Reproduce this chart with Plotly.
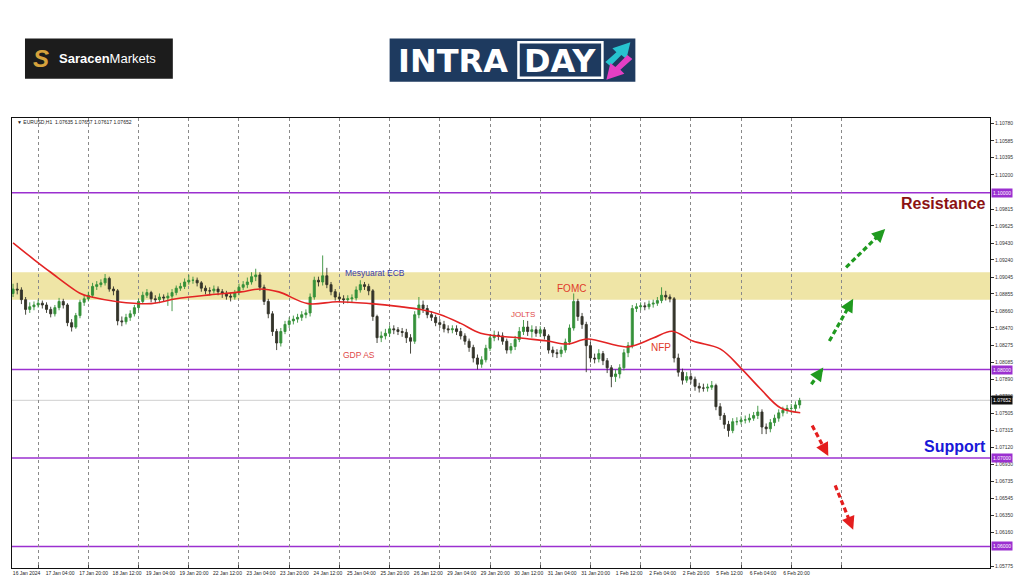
import plotly.graph_objects as go

# ---------------- data (EURUSD, 2-hour bars) ----------------
BAR_HOURS = 2
OPEN0 = 1.0886
CLOSE = [
    1.0891, 1.0890, 1.0879, 1.0868, 1.0871, 1.0873, 1.0875, 1.0873, 1.0868, 1.0863,
    1.0870, 1.0877, 1.0873, 1.0853, 1.0848, 1.0861, 1.0876, 1.0880, 1.0884, 1.0894,
    1.0896, 1.0898, 1.0903, 1.0891, 1.0889, 1.0855, 1.0854, 1.0859, 1.0863, 1.0870,
    1.0877, 1.0884, 1.0887, 1.0880, 1.0879, 1.0882, 1.0881, 1.0883, 1.0887, 1.0892,
    1.0894, 1.0899, 1.0901, 1.0901, 1.0898, 1.0892, 1.0889, 1.0889, 1.0891, 1.0888,
    1.0886, 1.0883, 1.0882, 1.0887, 1.0893, 1.0896, 1.0899, 1.0905, 1.0907, 1.0893,
    1.0877, 1.0863, 1.0843, 1.0830, 1.0843, 1.0851, 1.0855, 1.0857, 1.0859, 1.0862,
    1.0864, 1.0882, 1.0901, 1.0899, 1.0906, 1.0896, 1.0888, 1.0882, 1.0880, 1.0879,
    1.0880, 1.0881, 1.0890, 1.0896, 1.0894, 1.0889, 1.0860, 1.0836, 1.0838, 1.0841,
    1.0846, 1.0845, 1.0843, 1.0842, 1.0836, 1.0832, 1.0862, 1.0873, 1.0869, 1.0862,
    1.0859, 1.0853, 1.0851, 1.0846, 1.0845, 1.0846, 1.0843, 1.0838, 1.0832, 1.0825,
    1.0813, 1.0806, 1.0811, 1.0824, 1.0836, 1.0839, 1.0838, 1.0832, 1.0822, 1.0826,
    1.0834, 1.0843, 1.0848, 1.0843, 1.0845, 1.0841, 1.0845, 1.0838, 1.0822, 1.0819,
    1.0818, 1.0822, 1.0831, 1.0847, 1.0877, 1.0860, 1.0851, 1.0827, 1.0813, 1.0812,
    1.0818, 1.0810, 1.0802, 1.0792, 1.0795, 1.0802, 1.0819, 1.0827, 1.0869, 1.0871,
    1.0872, 1.0871, 1.0874, 1.0875, 1.0878, 1.0884, 1.0882, 1.0880, 1.0813, 1.0797,
    1.0788, 1.0792, 1.0789, 1.0781, 1.0779, 1.0779, 1.0780, 1.0782, 1.0758, 1.0748,
    1.0738, 1.0731, 1.0741, 1.0741, 1.0743, 1.0743, 1.0745, 1.0748, 1.0752, 1.0735,
    1.0733, 1.0740, 1.0745, 1.0751, 1.0754, 1.0756, 1.0756, 1.0760, 1.0765,
]
HIGH = [
    1.0897, 1.0898, 1.0893, 1.0882, 1.0876, 1.0877, 1.0879, 1.0878, 1.0876, 1.0871,
    1.0873, 1.0881, 1.0880, 1.0875, 1.0857, 1.0864, 1.0879, 1.0884, 1.0888, 1.0898,
    1.0900, 1.0902, 1.0908, 1.0905, 1.0894, 1.0891, 1.0860, 1.0863, 1.0867, 1.0873,
    1.0880, 1.0888, 1.0891, 1.0889, 1.0884, 1.0886, 1.0885, 1.0887, 1.0891, 1.0895,
    1.0898, 1.0903, 1.0907, 1.0905, 1.0904, 1.0900, 1.0895, 1.0893, 1.0895, 1.0894,
    1.0891, 1.0889, 1.0887, 1.0890, 1.0897, 1.0900, 1.0904, 1.0910, 1.0914, 1.0910,
    1.0896, 1.0880, 1.0866, 1.0846, 1.0847, 1.0855, 1.0859, 1.0861, 1.0863, 1.0866,
    1.0868, 1.0886, 1.0905, 1.0905, 1.0929, 1.0915, 1.0899, 1.0891, 1.0886, 1.0884,
    1.0884, 1.0885, 1.0894, 1.0901, 1.0899, 1.0897, 1.0891, 1.0862, 1.0843, 1.0846,
    1.0850, 1.0850, 1.0848, 1.0847, 1.0846, 1.0840, 1.0866, 1.0882, 1.0878, 1.0873,
    1.0866, 1.0862, 1.0857, 1.0855, 1.0850, 1.0850, 1.0850, 1.0847, 1.0841, 1.0835,
    1.0828, 1.0817, 1.0815, 1.0828, 1.0840, 1.0844, 1.0843, 1.0842, 1.0835, 1.0830,
    1.0838, 1.0848, 1.0856, 1.0855, 1.0850, 1.0849, 1.0849, 1.0848, 1.0840, 1.0826,
    1.0823, 1.0826, 1.0835, 1.0851, 1.0886, 1.0880, 1.0864, 1.0854, 1.0831, 1.0818,
    1.0823, 1.0821, 1.0813, 1.0805, 1.0800, 1.0806, 1.0823, 1.0831, 1.0873, 1.0875,
    1.0876, 1.0876, 1.0878, 1.0879, 1.0882, 1.0893, 1.0889, 1.0885, 1.0882, 1.0818,
    1.0801, 1.0797, 1.0796, 1.0792, 1.0785, 1.0784, 1.0784, 1.0787, 1.0784, 1.0762,
    1.0751, 1.0742, 1.0745, 1.0746, 1.0747, 1.0748, 1.0750, 1.0752, 1.0759, 1.0755,
    1.0739, 1.0744, 1.0749, 1.0755, 1.0758, 1.0760, 1.0761, 1.0764, 1.0768,
]
LOW = [
    1.0882, 1.0885, 1.0874, 1.0862, 1.0864, 1.0867, 1.0870, 1.0869, 1.0864, 1.0859,
    1.0860, 1.0867, 1.0869, 1.0849, 1.0843, 1.0846, 1.0858, 1.0872, 1.0877, 1.0881,
    1.0890, 1.0893, 1.0895, 1.0888, 1.0884, 1.0850, 1.0849, 1.0851, 1.0855, 1.0860,
    1.0867, 1.0874, 1.0881, 1.0876, 1.0875, 1.0875, 1.0877, 1.0872, 1.0866, 1.0884,
    1.0889, 1.0891, 1.0896, 1.0897, 1.0894, 1.0888, 1.0885, 1.0884, 1.0886, 1.0884,
    1.0881, 1.0879, 1.0877, 1.0879, 1.0884, 1.0890, 1.0892, 1.0896, 1.0900, 1.0889,
    1.0873, 1.0858, 1.0838, 1.0822, 1.0826, 1.0840, 1.0847, 1.0851, 1.0853, 1.0855,
    1.0858, 1.0860, 1.0879, 1.0894, 1.0895, 1.0892, 1.0884, 1.0878, 1.0876, 1.0874,
    1.0875, 1.0876, 1.0878, 1.0887, 1.0890, 1.0884, 1.0855, 1.0830, 1.0831, 1.0834,
    1.0837, 1.0840, 1.0839, 1.0837, 1.0830, 1.0818, 1.0829, 1.0858, 1.0864, 1.0858,
    1.0855, 1.0849, 1.0847, 1.0842, 1.0841, 1.0841, 1.0839, 1.0834, 1.0828, 1.0820,
    1.0808, 1.0800, 1.0802, 1.0808, 1.0821, 1.0832, 1.0833, 1.0828, 1.0818, 1.0818,
    1.0822, 1.0831, 1.0839, 1.0838, 1.0836, 1.0837, 1.0837, 1.0834, 1.0818, 1.0814,
    1.0813, 1.0814, 1.0819, 1.0828, 1.0844, 1.0855, 1.0846, 1.0797, 1.0808, 1.0807,
    1.0808, 1.0805, 1.0796, 1.0780, 1.0786, 1.0790, 1.0799, 1.0814, 1.0824, 1.0865,
    1.0867, 1.0867, 1.0868, 1.0870, 1.0872, 1.0875, 1.0878, 1.0876, 1.0808, 1.0792,
    1.0783, 1.0785, 1.0784, 1.0776, 1.0774, 1.0775, 1.0775, 1.0777, 1.0754, 1.0743,
    1.0733, 1.0724, 1.0728, 1.0737, 1.0738, 1.0739, 1.0740, 1.0742, 1.0744, 1.0727,
    1.0727, 1.0729, 1.0736, 1.0741, 1.0747, 1.0750, 1.0751, 1.0752, 1.0756,
]

# moving average (hour index, price)
MA_H = [0, 10, 18, 32.5, 37, 50, 66, 78, 94, 109, 118, 127, 141, 155, 171, 185, 195,
        204, 214, 223.5, 242.6, 255.5, 265, 274.6, 293.7, 306, 315, 325, 338, 347.7,
        357, 366.8, 376.3]
MA_P = [1.09433, 1.09244, 1.09100, 1.08856, 1.08822, 1.08767, 1.08745, 1.08800,
        1.08844, 1.08878, 1.08911, 1.08878, 1.08745, 1.08767, 1.08745, 1.08711,
        1.08678, 1.08622, 1.08522, 1.08411, 1.08356, 1.08322, 1.08289, 1.08345,
        1.08256, 1.08356, 1.08433, 1.08322, 1.08233, 1.08022, 1.07789, 1.07567,
        1.07511]

XLABELS = ["16 Jan 2024", "17 Jan 04:00", "17 Jan 20:00", "18 Jan 12:00", "19 Jan 04:00",
           "19 Jan 20:00", "22 Jan 12:00", "23 Jan 04:00", "23 Jan 20:00", "24 Jan 12:00",
           "25 Jan 04:00", "25 Jan 20:00", "26 Jan 12:00", "29 Jan 04:00", "29 Jan 20:00",
           "30 Jan 12:00", "31 Jan 04:00", "31 Jan 20:00", "1 Feb 12:00", "2 Feb 04:00",
           "2 Feb 20:00", "5 Feb 12:00", "6 Feb 04:00", "6 Feb 20:00"]
XLABEL_STEP = 16          # hours between date labels
GRID_START, GRID_STEP, GRID_COUNT = 12, 24, 17

YTICKS = [1.10780, 1.10585, 1.10395, 1.10200, 1.09815, 1.09625, 1.09430, 1.09240,
          1.09045, 1.08855, 1.08660, 1.08470, 1.08275, 1.08085, 1.07890, 1.07700,
          1.07505, 1.07315, 1.07120, 1.06930, 1.06735, 1.06545, 1.06350, 1.06160,
          1.05775]

LEVELS = [1.10000, 1.08000, 1.07000, 1.06000]
ZONE = (1.0879, 1.0910)
LAST_PRICE = 1.07652
INFO = "▼ EURUSD,H1  1.07635 1.07657 1.07617 1.07652"

# event labels: text, hour index, price, colour, size
EVENTS = [
    ("Mesyuarat ECB", 172.9, 1.09089, "#3a3aa8", 8.5),
    ("GDP AS", 165.2, 1.08167, "#e04848", 8.5),
    ("JOLTS", 244.0, 1.08622, "#e04848", 8),
    ("FOMC", 267.0, 1.08922, "#e03a2a", 10),
    ("NFP", 309.5, 1.08244, "#e03a2a", 10),
]
# scenario arrows: (tail hour, tail price, head hour, head price, colour)
ARROWS = [
    (381.6, 1.07833, 387.3, 1.08022, "#1f9a1f"),
    (390.2, 1.08322, 401.6, 1.08800, "#1f9a1f"),
    (398.2, 1.09156, 416.9, 1.09589, "#1f9a1f"),
    (382.0, 1.07367, 389.7, 1.07022, "#e41e1e"),
    (393.0, 1.06689, 401.6, 1.06189, "#e41e1e"),
]

# ---------------- figure ----------------
X_RANGE = [-0.5, 467]
Y_RANGE = [1.057556, 1.108444]
PL, PR, PT, PB = 11, 990, 118, 576   # plot-area pixel box
SANS = "Liberation Sans, Arial, sans-serif"
LOGO = "DejaVu Sans, Liberation Sans, sans-serif"


def px(x):
    return (x - PL) / (PR - PL)


def py(y):
    return (PB - y) / (PB - PT)


n = len(CLOSE)
bar_x = [BAR_HOURS * i for i in range(n)]
opens = [OPEN0] + CLOSE[:-1]

fig = go.Figure()
fig.add_trace(go.Candlestick(
    x=bar_x, open=opens, high=HIGH, low=LOW, close=CLOSE,
    increasing=dict(line=dict(color="#35913a", width=0.9), fillcolor="#35913a"),
    decreasing=dict(line=dict(color="#34342a", width=0.9), fillcolor="#34342a"),
    whiskerwidth=0, hoverinfo="skip", showlegend=False,
))
fig.add_trace(go.Scatter(
    x=MA_H, y=MA_P, mode="lines", line=dict(color="#e32424", width=1.6, shape="spline"),
    hoverinfo="skip", showlegend=False,
))

shapes = []
annotations = []

# yellow zone
shapes.append(dict(type="rect", xref="paper", yref="y", x0=0, x1=1, y0=ZONE[0], y1=ZONE[1],
                   fillcolor="#efe5a6", line=dict(width=0), layer="below"))
# current price line
shapes.append(dict(type="line", xref="paper", yref="y", x0=0, x1=1, y0=LAST_PRICE, y1=LAST_PRICE,
                   line=dict(color="#cfcfcf", width=1), layer="below"))
# purple levels
for lv in LEVELS:
    shapes.append(dict(type="line", xref="paper", yref="y", x0=0, x1=1, y0=lv, y1=lv,
                       line=dict(color="#9b30d0", width=1.5), layer="below"))
    annotations.append(dict(x=1, xref="paper", y=lv, yref="y", xanchor="left", yanchor="middle",
                            xshift=1, text=f"{lv:.5f}", showarrow=False, bgcolor="#9b30d0",
                            font=dict(size=5, color="white", family=SANS), borderpad=1))
annotations.append(dict(x=1, xref="paper", y=LAST_PRICE, yref="y", xanchor="left", yanchor="middle",
                        xshift=1, text=f"{LAST_PRICE:.5f}", showarrow=False, bgcolor="#111111",
                        font=dict(size=5, color="white", family=SANS), borderpad=1))

# scenario arrows
for (tx, tp, hx, hp, col) in ARROWS:
    ex = hx - (hx - tx) * 0.12
    ep = hp - (hp - tp) * 0.12
    shapes.append(dict(type="line", xref="x", yref="y", x0=tx, y0=tp, x1=ex, y1=ep,
                       line=dict(color=col, width=3.2, dash="5px,3px")))
    annotations.append(dict(x=hx, y=hp, xref="x", yref="y",
                            ax=hx - (hx - tx) * 0.3, ay=hp - (hp - tp) * 0.3,
                            axref="x", ayref="y", text="", showarrow=True,
                            arrowhead=2, arrowsize=1.1, arrowwidth=2.4, arrowcolor=col))

# event labels
for (t, hx, pr, col, sz) in EVENTS:
    annotations.append(dict(x=hx, y=pr, xref="x", yref="y", text=t, showarrow=False,
                            xanchor="center", yanchor="middle",
                            font=dict(size=sz, color=col, family=SANS)))

annotations.append(dict(x=444.6, y=1.09878, xref="x", yref="y", text="<b>Resistance</b>",
                        xanchor="center", yanchor="middle", showarrow=False,
                        font=dict(size=16, color="#8b1212", family=SANS)))
annotations.append(dict(x=450.3, y=1.07133, xref="x", yref="y", text="<b>Support</b>",
                        xanchor="center", yanchor="middle", showarrow=False,
                        font=dict(size=16, color="#1818d8", family=SANS)))

# info text
annotations.append(dict(x=px(14), y=py(122), xref="paper", yref="paper", xanchor="left",
                        yanchor="middle", text=INFO, showarrow=False,
                        font=dict(size=5, color="#222", family=SANS)))

# ---- logos ----
shapes.append(dict(type="rect", xref="paper", yref="paper", x0=px(24), x1=px(172),
                   y0=py(78), y1=py(37), fillcolor="#1c1c1c", line=dict(width=0)))
annotations.append(dict(x=px(40), y=py(57.5), xref="paper", yref="paper", text="<b><i>S</i></b>",
                        xanchor="center", yanchor="middle", showarrow=False,
                        font=dict(size=24, color="#d6a23c", family=SANS)))
annotations.append(dict(x=px(56), y=py(57.5), xref="paper", yref="paper", xanchor="left",
                        yanchor="middle", text="<b>Saracen</b>Markets", showarrow=False,
                        font=dict(size=13, color="white", family=SANS)))

shapes.append(dict(type="rect", xref="paper", yref="paper", x0=px(389), x1=px(635),
                   y0=py(81), y1=py(37), fillcolor="#1e3a5f", line=dict(width=0)))
shapes.append(dict(type="rect", xref="paper", yref="paper", x0=px(518), x1=px(602),
                   y0=py(77), y1=py(41), fillcolor="rgba(0,0,0,0)",
                   line=dict(color="white", width=2.5)))
annotations.append(dict(x=px(395), y=py(59.5), xref="paper", yref="paper", xanchor="left",
                        yanchor="middle", text="<b>INTRA</b>", showarrow=False,
                        font=dict(size=32, color="white", family=LOGO)))
annotations.append(dict(x=px(560), y=py(59.5), xref="paper", yref="paper", xanchor="center",
                        yanchor="middle", text="<b>DAY</b>", showarrow=False,
                        font=dict(size=32, color="white", family=LOGO)))


def poly(points):
    return "M " + " L ".join(f"{px(a):.5f},{py(b):.5f}" for a, b in points) + " Z"


shapes.append(dict(type="path", xref="paper", yref="paper",
                   path=poly([(605, 61), (616, 51), (612, 47), (630, 41), (626, 58), (621, 54), (610, 65)]),
                   fillcolor="#27c3cf", line=dict(width=0)))
shapes.append(dict(type="path", xref="paper", yref="paper",
                   path=poly([(632, 58), (620, 69), (624, 73), (606, 79), (610, 62), (615, 66), (627, 54)]),
                   fillcolor="#e43fc4", line=dict(width=0)))

fig.update_layout(
    width=1024, height=587,
    margin=dict(l=PL, r=1024 - PR, t=PT, b=587 - PB),
    paper_bgcolor="white", plot_bgcolor="white",
    showlegend=False, shapes=shapes, annotations=annotations,
    xaxis=dict(
        range=X_RANGE, rangeslider=dict(visible=False),
        tickmode="array",
        tickvals=[XLABEL_STEP * k + 6.5 for k in range(len(XLABELS))],
        ticktext=XLABELS, ticks="", showgrid=False, zeroline=False,
        showline=True, linecolor="#111", linewidth=1, mirror=True,
        tickfont=dict(size=5, color="#222", family=SANS),
        minor=dict(tickmode="array",
                   tickvals=[GRID_START + GRID_STEP * k for k in range(GRID_COUNT)],
                   ticks="inside", ticklen=3, tickcolor="#444",
                   showgrid=True, gridcolor="#8a8a8a", griddash="dot", gridwidth=1),
        fixedrange=True,
    ),
    yaxis=dict(
        range=Y_RANGE, side="right", tickmode="array", tickvals=YTICKS,
        ticktext=[f"{v:.5f}" for v in YTICKS], ticks="outside", ticklen=3,
        tickcolor="#333", showgrid=False, zeroline=False,
        showline=True, linecolor="#111", linewidth=1, mirror=True,
        tickfont=dict(size=5, color="#333", family=SANS),
        fixedrange=True,
    ),
)

fig.write_html("out.html", config={"displayModeBar": False},
               post_script="document.body.style.margin='0';document.body.style.padding='0';")
